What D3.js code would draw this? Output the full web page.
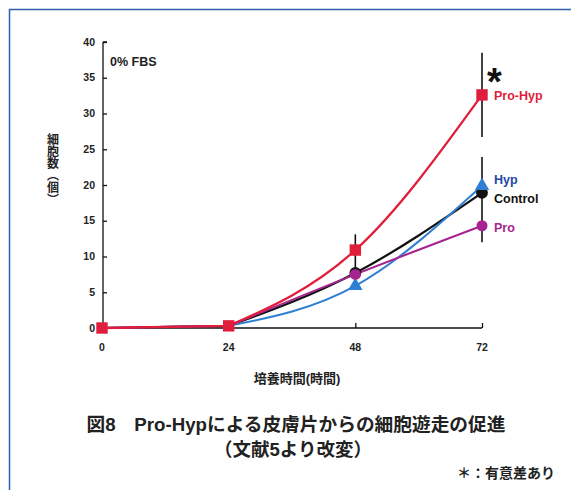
<!DOCTYPE html>
<html>
<head>
<meta charset="utf-8">
<script src="https://cdn.jsdelivr.net/npm/d3@7"></script>
<style>
  body { margin: 0; background: #fff; }
  svg text { font-family: "Liberation Sans", "Noto Sans CJK JP", sans-serif; }
  .tick-label { font-size: 10.5px; font-weight: bold; fill: #222; }
  .jp { font-family: "Liberation Sans", "Noto Sans CJK JP", sans-serif; font-weight: bold; fill: #222; }
  .ytitle { font-family: "Noto Sans CJK JP", sans-serif; font-weight: bold; fill: #222;
            writing-mode: vertical-rl; text-orientation: upright; }
</style>
</head>
<body>
<div id="svg-container"></div>
<script>
////////////////////////////  Data  ////////////////////////////
const hours = [0, 24, 48, 72];
const controlValues = [0, 0.3, 7.7, 18.9];
const hypValues = [0, 0.3, 5.9, 19.9];
const proValues = [0, 0.3, 7.5, 14.3];
const proHypValues = [0, 0.3, 10.9, 32.6];
const yTicks = [0, 5, 10, 15, 20, 25, 30, 35, 40];
const xTicks = [0, 24, 48, 72];
const errorBars = [
  { t: 48, lo: 6.5, hi: 13.1 },
  { t: 72, lo: 26.7, hi: 38.5 },
  { t: 72, lo: 12.0, hi: 23.9 }
];

////////////////////////////  Init  ////////////////////////////
const width = 571, height = 490;
const svg = d3.select("#svg-container").append("svg")
  .attr("width", width).attr("height", height);

// blue frame
svg.append("path")
  .attr("d", `M9.5,${height} V9.5 H${width}`)
  .attr("fill", "none").attr("stroke", "#2f5fb0").attr("stroke-width", 1.5);

const xScale = d3.scaleLinear().domain([0, 72]).range([102, 482]);
const yScale = d3.scaleLinear().domain([0, 40]).range([328, 42]);

// axes
const yAxis = d3.axisRight(yScale).tickValues(yTicks).tickSize(4).tickFormat("");
svg.append("g").attr("transform", "translate(103,0)").call(yAxis)
  .call(g => g.selectAll("line, path").attr("stroke", "#111").attr("stroke-width", 1.3))
  .call(g => g.select(".domain").attr("d", `M0,${yScale(40)}H4M0,${yScale(40)}V${yScale(0)}`));

svg.selectAll(".ylab").data(yTicks).enter().append("text")
  .attr("class", "tick-label")
  .attr("x", 95).attr("y", d => yScale(d) + 3.5)
  .attr("text-anchor", "end").text(d => d);

const xAxis = d3.axisTop(xScale).tickValues(xTicks.slice(1)).tickSize(5).tickFormat("");
svg.append("g").attr("transform", "translate(0,328)").call(xAxis)
  .call(g => g.selectAll("line, path").attr("stroke", "#111").attr("stroke-width", 1.3))
  .call(g => g.select(".domain").attr("d", `M103,0H${xScale(72)}`));

svg.selectAll(".xlab").data(xTicks).enter().append("text")
  .attr("class", "tick-label")
  .attr("x", d => xScale(d)).attr("y", 351)
  .attr("text-anchor", "middle").text(d => d);

// axis titles
svg.append("text").attr("class", "jp")
  .attr("x", 297).attr("y", 383).attr("text-anchor", "middle")
  .attr("font-size", 13).text("培養時間(時間)");

svg.append("text").attr("class", "ytitle")
  .attr("x", 53).attr("y", 133)
  .attr("font-size", 12).text("細胞数（個）");

svg.append("text").attr("x", 110).attr("y", 66)
  .attr("font-size", 12.5).attr("font-weight", "bold").attr("fill", "#222")
  .text("0% FBS");

// error bars
svg.selectAll(".err").data(errorBars).enter().append("line")
  .attr("x1", d => xScale(d.t)).attr("x2", d => xScale(d.t))
  .attr("y1", d => yScale(d.hi)).attr("y2", d => yScale(d.lo))
  .attr("stroke", "#111").attr("stroke-width", 1.6);

////////////////////////////  Lines  ////////////////////////////
const series = [
  { name: "Control", values: controlValues, color: "#111111", shape: d3.symbolCircle, size: 110, width: 2.2 },
  { name: "Hyp", values: hypValues, color: "#2f7fd2", shape: d3.symbolTriangle, size: 90, width: 2 },
  { name: "Pro", values: proValues, color: "#a6248f", shape: d3.symbolCircle, size: 95, width: 2 },
  { name: "Pro-Hyp", values: proHypValues, color: "#e01e3c", shape: d3.symbolSquare, size: 130, width: 2.3 }
];

const flatLine = d3.line()
  .x(d => xScale(d[0]))
  .y(d => yScale(d[1]));
const smoothLine = d3.line()
  .x(d => xScale(d[0]))
  .y(d => yScale(d[1]))
  .curve(d3.curveNatural);

series.forEach(s => {
  const pts = s.values.map((v, i) => [hours[i], v]);
  svg.append("path")
    .attr("d", flatLine(pts.slice(0, 2)) + smoothLine(pts.slice(1)))
    .attr("fill", "none")
    .attr("stroke", s.color)
    .attr("stroke-width", s.width);
});

series.forEach(s => {
  svg.selectAll(null).data(s.values.map((v, i) => [hours[i], v]).filter(d => d[0] >= 48 || s.name === "Pro-Hyp"))
    .enter().append("path")
    .attr("d", d3.symbol().type(s.shape).size(s.size))
    .attr("transform", d => `translate(${xScale(d[0])},${yScale(d[1])})`)
    .attr("fill", s.color);
});

// series labels
const labelNames = ["Pro-Hyp", "Hyp", "Control", "Pro"];
const labelColors = ["#e01e3c", "#2346a8", "#111", "#a6248f"];
const labelY = [100, 184, 203, 232];
svg.selectAll(".slab").data(labelNames).enter().append("text")
  .attr("x", 494).attr("y", (d, i) => labelY[i])
  .attr("font-size", 12.5).attr("font-weight", "bold")
  .attr("fill", (d, i) => labelColors[i]).text(d => d);

svg.append("text").attr("x", 487).attr("y", 95)
  .attr("font-size", 38).attr("font-weight", "bold").attr("fill", "#111").text("*");

////////////////////////////  Caption  ////////////////////////////
svg.append("text").attr("class", "jp")
  .attr("x", 296).attr("y", 431).attr("text-anchor", "middle")
  .attr("font-size", 18.7).text("図8　Pro-Hypによる皮膚片からの細胞遊走の促進");
svg.append("text").attr("class", "jp")
  .attr("x", 293).attr("y", 456).attr("text-anchor", "middle")
  .attr("font-size", 18.5).text("（文献5より改変）");
svg.append("text").attr("class", "jp")
  .attr("x", 555).attr("y", 478).attr("text-anchor", "end")
  .attr("font-size", 14).text("＊：有意差あり");
</script>
</body>
</html>
